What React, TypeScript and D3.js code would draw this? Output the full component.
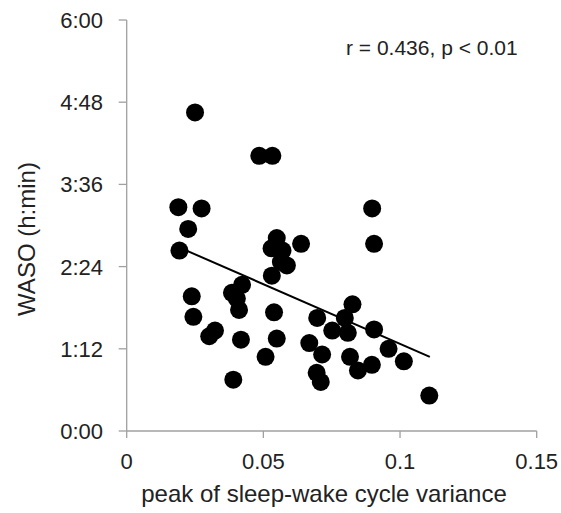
import * as d3 from "d3"

// peak of sleep-wake cycle variance
const variance = [
  0.025, 0.0485, 0.0533, 0.0189, 0.0274, 0.0225, 0.0898, 0.0193, 0.0549, 0.053,
  0.057, 0.0638, 0.0905, 0.0564, 0.0586, 0.0531, 0.0238, 0.0422, 0.0385, 0.0403,
  0.0411, 0.0244, 0.0323, 0.0302, 0.0418, 0.0539, 0.0549, 0.0508, 0.039, 0.0697,
  0.0668, 0.0715, 0.0695, 0.071, 0.0752, 0.0798, 0.0826, 0.0809, 0.0905, 0.0817,
  0.0846, 0.0897, 0.0958, 0.1014, 0.1107,
]

// WASO in minutes
const waso = [
  279, 241, 241, 196, 195, 177, 195, 158, 169, 160,
  158, 164, 164, 148, 145, 136, 118, 128, 121, 116,
  106, 100, 88, 83, 80, 104, 81, 65, 45, 99,
  77, 67, 51, 43, 88, 99, 111, 86, 89, 65,
  53, 58, 72, 61, 31,
]

const fitX = [0.0219, 0.1109]
const fitY = [158, 65]

const xTicks = [0, 0.05, 0.1, 0.15]
const yTicks = [0, 72, 144, 216, 288, 360]

const W = 561
const H = 513
const font = "'Liberation Sans', Arial, sans-serif"
const axisColor = "#a0a0a0"
const textColor = "#222"

const fmtMin = (m: number) => `${Math.floor(m / 60)}:${String(m % 60).padStart(2, "0")}`

export default function App() {
  const x = d3.scaleLinear().domain([0, 0.15]).range([126.7, 536.7])
  const y = d3.scaleLinear().domain([0, 360]).range([431, 20])

  const line = d3
    .line<number>()
    .x((_, i) => x(fitX[i]))
    .y((_, i) => y(fitY[i]))

  return (
    <svg
      width={W}
      height={H}
      style={{ position: "absolute", left: 0, top: 0, background: "#fff" }}
      fontFamily={font}
    >
      {/* axes */}
      <line x1={x(0)} x2={x(0)} y1={y(360)} y2={y(0)} stroke={axisColor} strokeWidth={1.3} />
      <line x1={x(0)} x2={x(0.15)} y1={y(0)} y2={y(0)} stroke={axisColor} strokeWidth={1.3} />
      {yTicks.map((t) => (
        <g key={t}>
          <line x1={x(0) - 8} x2={x(0)} y1={y(t)} y2={y(t)} stroke={axisColor} strokeWidth={1.3} />
          <text
            x={103}
            y={y(t)}
            dy="0.36em"
            textAnchor="end"
            fontSize={22}
            fill={textColor}
          >
            {fmtMin(t)}
          </text>
        </g>
      ))}
      {xTicks.map((t) => (
        <g key={t}>
          <line x1={x(t)} x2={x(t)} y1={y(0)} y2={y(0) + 7} stroke={axisColor} strokeWidth={1.3} />
          <text x={x(t)} y={469} textAnchor="middle" fontSize={22} fill={textColor}>
            {t}
          </text>
        </g>
      ))}

      <text x={324} y={502} textAnchor="middle" fontSize={24} fill={textColor}>
        peak of sleep-wake cycle variance
      </text>
      <text
        transform="translate(35,239) rotate(-90)"
        textAnchor="middle"
        fontSize={24}
        fill={textColor}
      >
        WASO (h:min)
      </text>
      <text x={346} y={55} fontSize={21} fill={textColor}>
        r = 0.436, p &lt; 0.01
      </text>

      {variance.map((v, i) => (
        <circle key={i} cx={x(v)} cy={y(waso[i])} r={9} fill="#000" />
      ))}

      <path d={line(fitX) ?? ""} fill="none" stroke="#000" strokeWidth={2} />
    </svg>
  )
}
